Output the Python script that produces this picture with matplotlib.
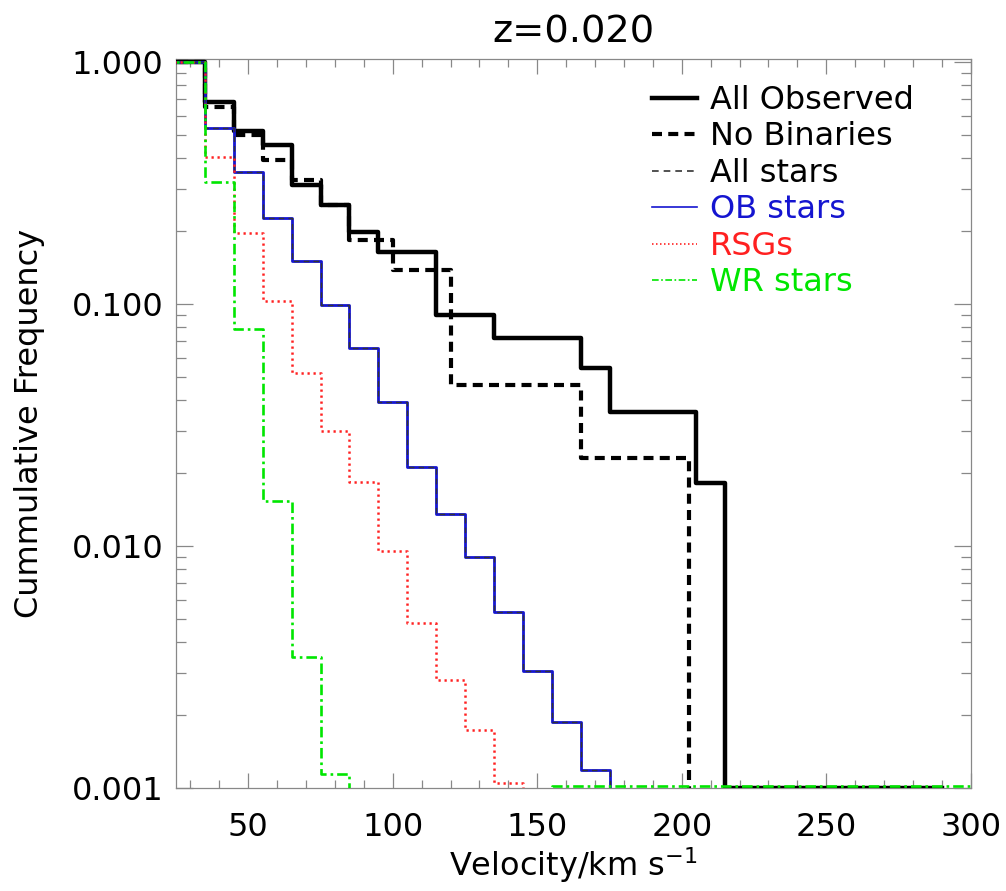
import matplotlib
matplotlib.use("Agg")
import matplotlib.pyplot as plt
from matplotlib.ticker import FixedLocator, MultipleLocator, NullFormatter

# step breaks (km/s) and cumulative frequencies
vel_obs = [20, 35, 45, 55, 65, 75, 85, 95, 115, 135, 165, 175, 205, 215, 290]
freq_obs = [1.0, 0.686, 0.52, 0.454, 0.31, 0.257, 0.199, 0.164, 0.090, 0.0724,
            0.0545, 0.0359, 0.0182, 0.001, 0.001]

vel_nb = [20, 35, 45, 55, 65, 75, 85, 100, 120, 165, 202.5]
freq_nb = [1.0, 0.652, 0.50, 0.394, 0.325, 0.257, 0.184, 0.138, 0.0462, 0.0231, 1e-4]

vel_ob = [20, 35, 45, 55, 65, 75, 85, 95, 105, 115, 125, 135, 145, 155, 165, 175]
freq_ob = [1.0, 0.533, 0.352, 0.226, 0.150, 0.099, 0.0657, 0.0394, 0.0213, 0.0136,
           0.00904, 0.00536, 0.00303, 0.00188, 0.00119, 1e-4]

vel_all = [20, 35, 45, 55, 65, 75, 85, 95, 105, 115, 125, 135, 145, 155, 165, 175]
freq_all = [1.0, 0.533, 0.352, 0.226, 0.150, 0.099, 0.0657, 0.0394, 0.0213, 0.0136,
            0.00904, 0.00536, 0.00303, 0.00188, 0.00119, 1e-4]

vel_rsg = [20, 35, 45, 55, 65, 75, 85, 95, 105, 115, 125, 135, 145]
freq_rsg = [1.0, 0.404, 0.197, 0.103, 0.052, 0.0298, 0.0183, 0.00958, 0.0048,
            0.00279, 0.00174, 0.00105, 1e-4]

vel_wr = [20, 35, 45, 55, 65, 75, 85, 155, 300]
freq_wr = [1.0, 0.318, 0.0789, 0.0153, 0.00349, 0.00114, 1e-4, 0.00102, 0.00102]

y_ticks = [0.001, 0.01, 0.1, 1.0]
y_ticklabels = ["0.001", "0.010", "0.100", "1.000"]

plt.rcParams['font.family'] = 'DejaVu Sans'
plt.rcParams['font.size'] = 23

fig = plt.figure(figsize=(10.06, 8.91), dpi=100)
ax = fig.add_axes([0.175, 0.1156, 0.79, 0.8182])

ax.step(vel_obs, freq_obs, where='post', color='black', lw=3.2, label='All Observed',
        zorder=3)
ax.step(vel_nb, freq_nb, where='post', color='black', lw=3.0, dashes=(2.4, 1.5),
        label='No Binaries', zorder=3)
ax.step(vel_ob, freq_ob, where='post', color='#1515d0', lw=2.0, label='OB stars', zorder=3)
ax.step(vel_all, freq_all, where='post', color='#333333', lw=1.0, dashes=(4, 3),
        label='All stars', zorder=3)
ax.step(vel_rsg, freq_rsg, where='post', color='#ff2020', lw=1.8, dashes=(0.9, 1.5),
        label='RSGs', zorder=3)
ax.step(vel_wr, freq_wr, where='post', color='#00e600', lw=1.9, dashes=(4, 1.5, 1, 1.5),
        label='WR stars', zorder=3.5)

ax.set_yscale('log')
ax.set_xlim(25, 300)
ax.set_ylim(0.001, 1.029)

ax.yaxis.set_major_locator(FixedLocator(y_ticks))
ax.set_yticklabels(y_ticklabels)
ax.yaxis.set_minor_formatter(NullFormatter())
ax.xaxis.set_major_locator(MultipleLocator(50))
ax.xaxis.set_minor_locator(MultipleLocator(10))

for s in ax.spines.values():
    s.set_color('#888888')
    s.set_linewidth(0.9)
ax.tick_params(which='both', direction='in', top=True, right=True, color='#888888', width=0.9)
ax.tick_params(axis='x', which='major', length=11, pad=17)
ax.tick_params(axis='x', which='minor', length=6)
ax.tick_params(axis='y', which='major', length=12, pad=9)
ax.tick_params(axis='y', which='minor', length=7)

ax.set_xlabel(r"Velocity/km s$^{-1}$", labelpad=2)
ax.set_ylabel("Cummulative Frequency", labelpad=19)
ax.set_title("z=0.020", pad=12)

h, l = ax.get_legend_handles_labels()
order = [0, 1, 3, 2, 4, 5]
leg = ax.legend([h[i] for i in order], [l[i] for i in order], loc='upper left',
                bbox_to_anchor=(652 / 1006, 1 - 85 / 891), bbox_transform=fig.transFigure,
                frameon=False, borderpad=0, borderaxespad=0, handlelength=1.4,
                handletextpad=0.4, labelspacing=0.17, labelcolor='linecolor')
for line in leg.get_lines():
    if line.get_label() in ('OB stars', 'RSGs', 'WR stars', 'All stars'):
        line.set_linewidth(1.2)
leg.get_texts()[2].set_color('black')

fig.savefig('out.png', dpi=100)
